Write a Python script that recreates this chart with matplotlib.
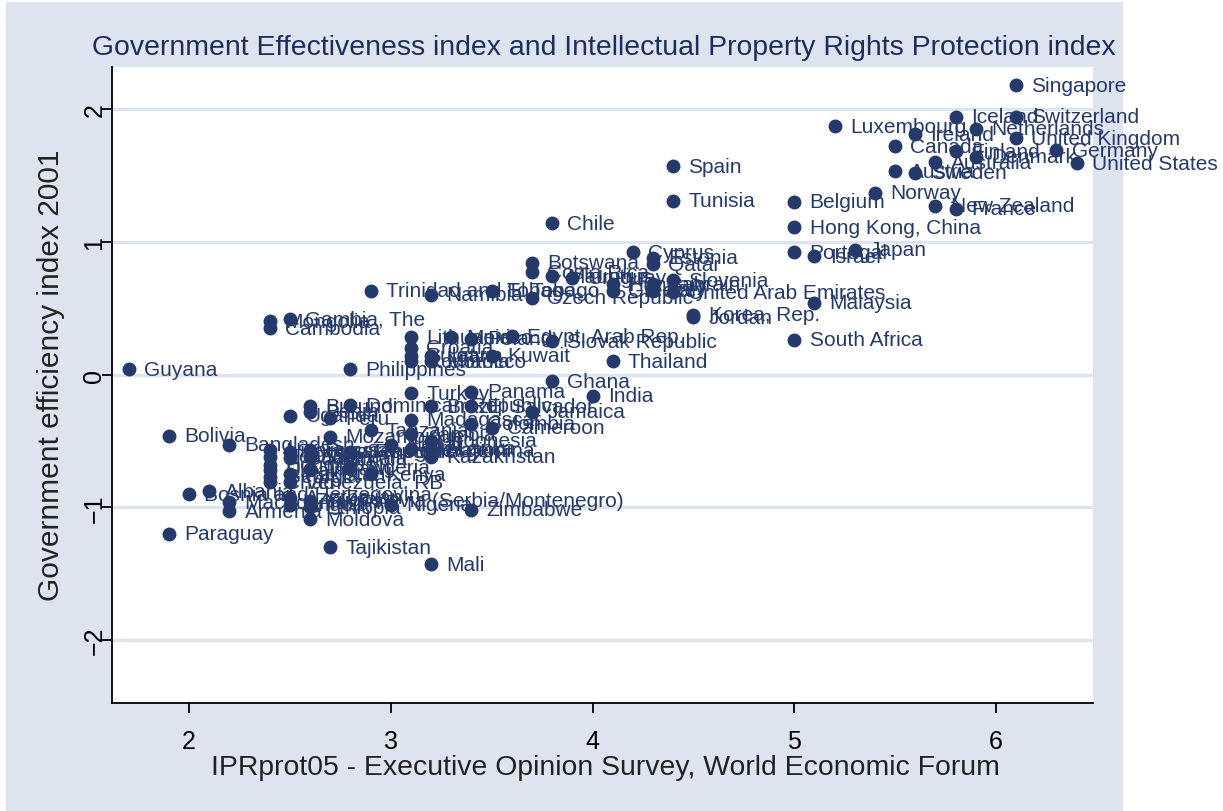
import matplotlib
matplotlib.use("Agg")
import matplotlib.pyplot as plt
from matplotlib.patches import Rectangle

plt.rcParams['font.family'] = ['Liberation Sans', 'DejaVu Sans']

# IPR protection score (x) and government effectiveness 2001 (y)
countries = [
    "Singapore", "Iceland", "Switzerland", "Luxembourg", "Netherlands", "Ireland",
    "United Kingdom", "Canada", "Finland", "Germany", "Denmark", "Australia",
    "United States", "Austria", "Sweden", "Norway", "Belgium", "New Zealand",
    "France", "Hong Kong, China", "Spain", "Tunisia", "Chile", "Portugal",
    "Japan", "Israel", "Malaysia", "South Africa", "Korea, Rep.", "Jordan",
    "Cyprus", "Estonia", "Qatar", "Slovenia", "Botswana", "Costa Rica",
    "Mauritius", "Uruguay", "Hungary", "Greece", "Bahrain", "Italy",
    "United Arab Emirates", "Trinidad and Tobago", "Namibia", "El Tobago",
    "Czech Republic", "Mongolia", "Cambodia", "Gambia, The", "Lithuania",
    "Croatia", "Bulgaria", "Romania", "Mexico", "Latvia", "Morocco", "Kuwait",
    "Poland", "Egypt, Arab Rep.", "Slovak Republic", "Thailand", "Philippines",
    "Guyana", "Ghana", "India", "Turkey", "Panama", "El Salvador", "Brazil",
    "Dominican Republic", "Burundi", "Benin", "Uganda", "Peru", "Madagascar",
    "Colombia", "Jamaica", "Cameroon", "Tanzania", "Zambia", "Indonesia",
    "Kazakhstan", "Mozambique", "Bolivia", "Bangladesh", "Nicaragua", "Ecuador",
    "Honduras", "Ukraine", "Georgia", "Chad", "Kyrgyz Republic", "Guatemala",
    "Pakistan", "Venezuela, RB", "Vietnam", "Malawi", "Russian Federation",
    "Senegal", "Kenya", "Nepal", "Sri Lanka", "Argentina", "Algeria",
    "Bosnia and Herzegovina", "Albania", "Armenia", "Macedonia, FYR",
    "Azerbaijan", "Angola", "Ethiopia", "Yugoslavia (Serbia/Montenegro)",
    "Nigeria", "Zimbabwe", "Moldova", "Paraguay", "Tajikistan", "Mali",
]
ipr = [
    6.1, 5.8, 6.1, 5.2, 5.9, 5.6,
    6.1, 5.5, 5.8, 6.3, 5.9, 5.7,
    6.4, 5.5, 5.6, 5.4, 5.0, 5.7,
    5.8, 5.0, 4.4, 4.4, 3.8, 5.0,
    5.3, 5.1, 5.1, 5.0, 4.5, 4.5,
    4.2, 4.3, 4.3, 4.4, 3.7, 3.7,
    3.8, 3.9, 4.1, 4.1, 4.3, 4.3,
    4.4, 2.9, 3.2, 3.5,
    3.7, 2.4, 2.4, 2.5, 3.1,
    3.1, 3.1, 3.1, 3.3, 3.2, 3.2, 3.5,
    3.4, 3.6, 3.8, 4.1, 2.8,
    1.7, 3.8, 4.0, 3.1, 3.4, 3.4, 3.2,
    2.8, 2.6, 2.6, 2.5, 2.7, 3.1,
    3.4, 3.7, 3.5, 2.9, 3.1, 3.2,
    3.2, 2.7, 1.9, 2.2, 2.4, 2.4,
    2.4, 2.4, 2.4, 2.4, 2.5, 2.5,
    2.5, 2.5, 2.6, 2.6, 2.6,
    2.8, 2.9, 3.0, 3.1, 3.2, 2.8,
    2.0, 2.1, 2.2, 2.2,
    2.5, 2.5, 2.6, 2.6,
    3.0, 3.4, 2.6, 1.9, 2.7, 3.2,
]
gov = [
    2.18, 1.94, 1.94, 1.87, 1.85, 1.81,
    1.78, 1.72, 1.68, 1.69, 1.64, 1.60,
    1.59, 1.53, 1.52, 1.37, 1.30, 1.27,
    1.25, 1.11, 1.57, 1.31, 1.14, 0.92,
    0.94, 0.89, 0.54, 0.26, 0.45, 0.43,
    0.92, 0.88, 0.83, 0.71, 0.84, 0.77,
    0.74, 0.73, 0.68, 0.63, 0.68, 0.63,
    0.62, 0.63, 0.60, 0.63,
    0.58, 0.40, 0.35, 0.42, 0.28,
    0.20, 0.14, 0.10, 0.28, 0.14, 0.10, 0.14,
    0.27, 0.29, 0.25, 0.10, 0.04,
    0.04, -0.05, -0.16, -0.14, -0.13, -0.24, -0.24,
    -0.23, -0.24, -0.28, -0.31, -0.33, -0.34,
    -0.37, -0.28, -0.40, -0.42, -0.45, -0.50,
    -0.62, -0.47, -0.46, -0.53, -0.57, -0.62,
    -0.68, -0.72, -0.77, -0.81, -0.58, -0.63,
    -0.75, -0.81, -0.62, -0.71, -0.57,
    -0.58, -0.75, -0.53, -0.56, -0.57, -0.70,
    -0.90, -0.88, -1.03, -0.96,
    -0.93, -0.98, -1.00, -0.95,
    -0.98, -1.02, -1.09, -1.20, -1.30, -1.43,
]

navy = '#253A6B'
outer = '#DEE4EF'

fig = plt.figure(figsize=(12.23, 8.12), dpi=100)
fig.patch.set_facecolor('white')
bg = Rectangle((6/1223, 0), 1117/1223, 809/812, transform=fig.transFigure,
               facecolor=outer, edgecolor='none', zorder=-10)
fig.add_artist(bg)

ax = fig.add_axes([112/1223, 1 - 704/812, 981/1223, 636/812])
ax.set_facecolor('white')
ax.set_xlim(1.618, 6.481)
ax.set_ylim(-2.474, 2.316)

ax.plot(ipr, gov, 'o', color=navy, markersize=9, zorder=3)
for name, x, y in zip(countries, ipr, gov):
    ax.annotate(name, (x, y), xytext=(11, 0), textcoords='offset points',
                va='center', ha='left', fontsize=15, color=navy,
                annotation_clip=False, zorder=4)

ax.set_xticks([2, 3, 4, 5, 6])
ax.set_yticks([-2, -1, 0, 1, 2])
ax.yaxis.grid(True, color=outer, linewidth=2.4)
ax.set_axisbelow(True)
for s in ['top', 'right']:
    ax.spines[s].set_visible(False)
for s in ['left', 'bottom']:
    ax.spines[s].set_linewidth(1.3)
ax.tick_params(length=7, width=1.3, labelsize=18)
ax.tick_params(axis='x', pad=12)
ax.tick_params(axis='y', pad=-3)
for lab in ax.get_yticklabels():
    lab.set_rotation(90)
    lab.set_va('center')

fig.text(604/1223, 1 - 48/812,
         "Government Effectiveness index and Intellectual Property Rights Protection index",
         ha='center', va='center', fontsize=20.4, color='#1E2E5C')
fig.text(605/1223, 1 - 768/812,
         "IPRprot05 - Executive Opinion Survey, World Economic Forum",
         ha='center', va='center', fontsize=20.4, color='#222222')
fig.text(51/1223, 1 - 375/812, "Government efficiency index 2001",
         ha='center', va='center', rotation=90, fontsize=21.5, color='#222222')

fig.savefig('out.png', dpi=100)
